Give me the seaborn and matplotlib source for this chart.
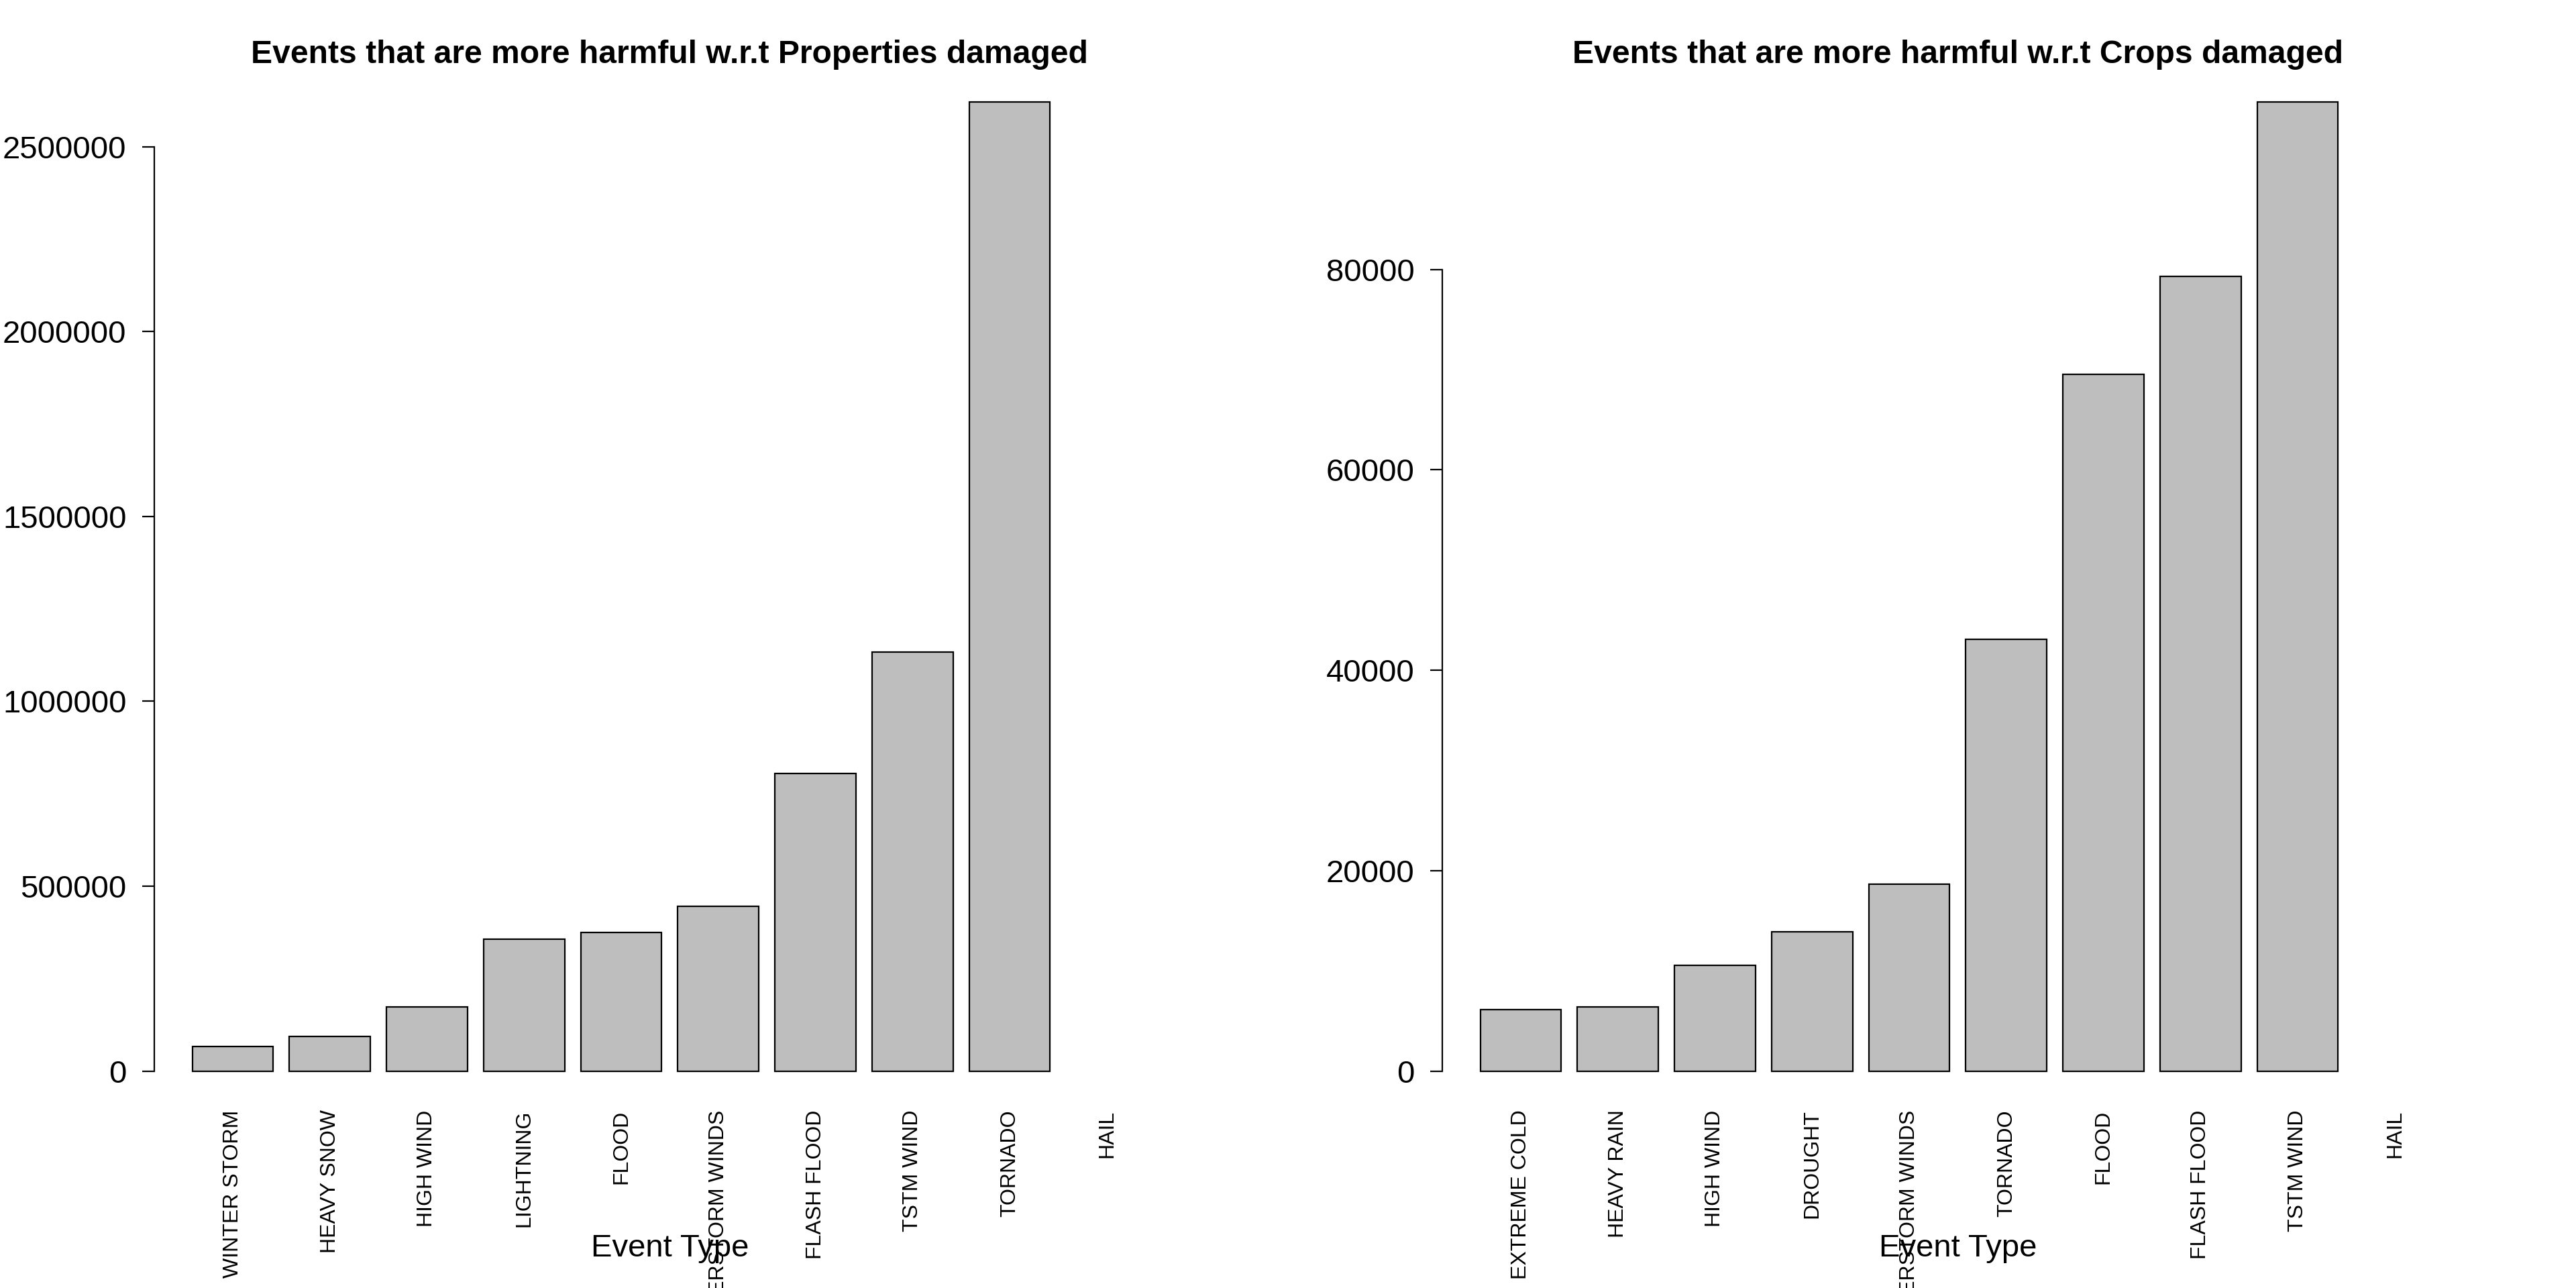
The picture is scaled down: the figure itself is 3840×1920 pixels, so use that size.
import numpy as np
import pandas as pd
import seaborn as sns
import matplotlib
matplotlib.use("Agg")
import matplotlib.pyplot as plt

# top events by property damage (sorted ascending, HAIL has no value)
prop_events = ['WINTER STORM', 'HEAVY SNOW', 'HIGH WIND', 'LIGHTNING', 'FLOOD',
               'THUNDERSTORM WINDS', 'FLASH FLOOD', 'TSTM WIND', 'TORNADO', 'HAIL']
prop_damage = [65900, 93700, 173400, 355900, 375300, 445900, 805300, 1132900, 2621600, np.nan]
prop_ticks = [0, 500000, 1000000, 1500000, 2000000, 2500000]

# top events by crop damage
crop_events = ['EXTREME COLD', 'HEAVY RAIN', 'HIGH WIND', 'DROUGHT', 'THUNDERSTORM WINDS',
               'TORNADO', 'FLOOD', 'FLASH FLOOD', 'TSTM WIND', 'HAIL']
crop_damage = [6140, 6405, 10550, 13900, 18635, 43070, 69530, 79300, 96730, np.nan]
crop_ticks = [0, 20000, 40000, 60000, 80000]

sns.set_style("white")
plt.rcParams['font.family'] = ['Liberation Sans', 'DejaVu Sans']
plt.rcParams['text.color'] = 'black'
plt.rcParams['axes.labelcolor'] = 'black'
plt.rcParams['xtick.color'] = 'black'
plt.rcParams['ytick.color'] = 'black'

fig = plt.figure(figsize=(19.2, 9.6), dpi=200)


def draw_panel(ax, events, values, ticks, title):
    df = pd.DataFrame({'event': events, 'damage': values})
    sns.barplot(data=df, x='event', y='damage', order=events, ax=ax,
                color='#BEBEBE', edgecolor='black', linewidth=0.8,
                width=1 / 1.2, saturation=1, errorbar=None)
    top = np.nanmax(values)
    ax.set_ylim(-0.04 * top, 1.04 * top)
    ax.set_xlim(-0.81, 9.81)
    ax.set_yticks(ticks)
    ax.set_yticklabels([str(t) for t in ticks], fontsize=17, color='black')
    ax.tick_params(axis='y', direction='out', length=6.5, width=0.8, pad=8.3,
                   left=True, colors='black')
    ax.tick_params(axis='x', length=0, pad=0, colors='black')
    plt.setp(ax.get_xticklabels(), rotation=90, fontsize=11.5, color='black')
    for s in ['top', 'right', 'bottom']:
        ax.spines[s].set_visible(False)
    ax.spines['left'].set_bounds(ticks[0], ticks[-1])
    ax.spines['left'].set_linewidth(0.8)
    ax.spines['left'].set_color('black')
    ax.set_ylabel('')
    ax.set_xlabel('Event Type', fontsize=17, color='black')
    ax.xaxis.set_label_coords(0.5, -0.118)
    ax.set_title(title, fontsize=17.3, fontweight='bold', pad=0, color='black')


ax1 = fig.add_axes([0.0598, 0.1383, 0.4004, 0.8128])
draw_panel(ax1, prop_events, prop_damage, prop_ticks,
           'Events that are more harmful w.r.t Properties damaged')

ax2 = fig.add_axes([0.5598, 0.1383, 0.4004, 0.8128])
draw_panel(ax2, crop_events, crop_damage, crop_ticks,
           'Events that are more harmful w.r.t Crops damaged')

fig.savefig('out.png', dpi=200)
